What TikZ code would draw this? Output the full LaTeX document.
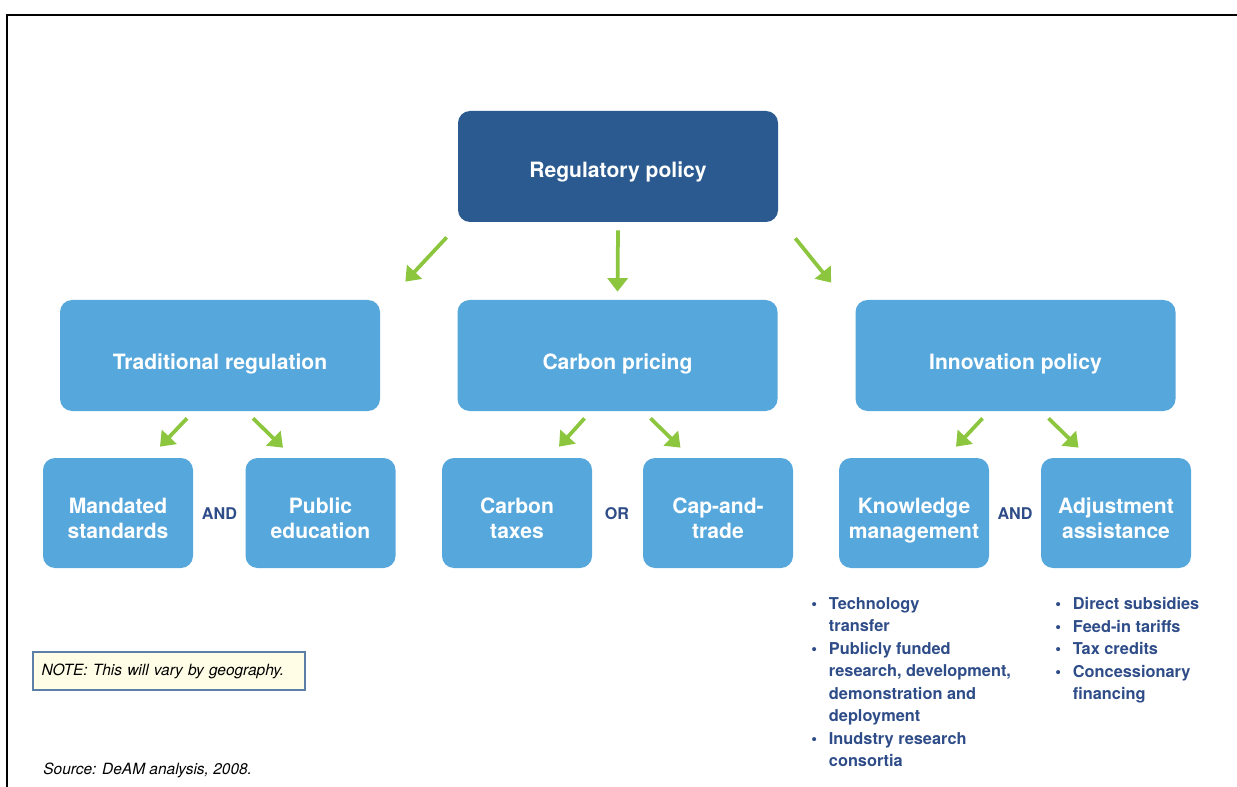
\documentclass[tikz,border=0pt]{standalone}
\usepackage{fontspec}
\setmainfont{TeX Gyre Heros}
\usetikzlibrary{arrows.meta}

\definecolor{darkbox}{HTML}{2A5A8F}
\definecolor{lightbox}{HTML}{56A7DC}
\definecolor{arrowgreen}{HTML}{8CC63F}
\definecolor{listblue}{HTML}{2E4C88}
\definecolor{notefill}{HTML}{FFFDE6}
\definecolor{noteline}{HTML}{5B7FA6}

\tikzset{
    topbox/.style={fill=darkbox, rounded corners=0.24cm, minimum width=6.4cm,
        minimum height=2.22cm, text=white, text height=15.1pt, text depth=2.5pt,
        font=\fontsize{12}{14}\selectfont\bfseries},
    midbox/.style={topbox, fill=lightbox, text height=18.5pt},
    subbox/.style={midbox, minimum width=3cm, minimum height=2.2cm, align=center,
        text height=31.5pt, text depth=2.5pt},
    garrow/.style={draw=arrowgreen, line width=0.075cm,
        -{Triangle[width=0.4cm, length=0.27cm]}},
    joiner/.style={text=listblue, font=\fontsize{9.2}{11}\selectfont\bfseries},
    bulletlist/.style={text=listblue, align=left, inner sep=0pt,
        font=\fontsize{9.3}{12.8}\selectfont\bfseries}
}
\newcommand{\blt}{\makebox[10pt][l]{\textbullet}}
\newcommand{\cont}{\hspace*{10pt}}

\begin{document}
\begin{tikzpicture}
    \useasboundingbox (0,0) rectangle (24.74,-15.74);

    % Frame
    \draw[line width=0.04cm] (24.74,-0.3) -- (0.14,-0.3) -- (0.14,-15.74);

    % Regulatory policy
    \node[topbox] (reg) at (12.36,-3.33) {Regulatory policy};

    % Second row
    \node[midbox] (trad) at (4.4,-7.11) {Traditional regulation};
    \node[midbox] (carb) at (12.35,-7.11) {Carbon pricing};
    \node[midbox] (innov) at (20.31,-7.11) {Innovation policy};

    % Third row
    \node[subbox] (mand) at (2.36,-10.26) {Mandated\\standards};
    \node[subbox] (pub) at (6.41,-10.26) {Public\\education};
    \node[subbox] (ctax) at (10.34,-10.26) {Carbon\\taxes};
    \node[subbox] (cap) at (14.36,-10.26) {Cap-and-\\trade};
    \node[subbox] (know) at (18.28,-10.26) {Knowledge\\management};
    \node[subbox] (adj) at (22.32,-10.26) {Adjustment\\assistance};

    \node[joiner] (and1) at (4.39,-10.28) {AND};
    \node[joiner] (or) at (12.34,-10.28) {OR};
    \node[joiner] (and2) at (20.3,-10.28) {AND};

    % Arrows from the top
    \draw[garrow] ([shift={(-0.22,-0.3)}]reg.south west) -- ([shift={(0.5,0.36)}]trad.north east);
    \draw[garrow] ([shift={(0,-0.16)}]reg.south) -- ([shift={(0,0.16)}]carb.north);
    \draw[garrow] ([shift={(0.34,-0.32)}]reg.south east) -- ([shift={(-0.48,0.34)}]innov.north west);

    % Arrows to the third row
    \foreach \p/\l/\r in {trad/mand/pub, carb/ctax/cap, innov/know/adj} {
        \draw[garrow] ([shift={(-0.66,-0.14)}]\p.south) -- ([shift={(0.84,0.22)}]\l.north);
        \draw[garrow] ([shift={(0.66,-0.14)}]\p.south) -- ([shift={(-0.75,0.2)}]\r.north);
    }

    % Lists
    \node[bulletlist, anchor=north west] (knowlist) at (16.22,-11.94) {%
        \blt Technology\\ \cont transfer\\
        \blt Publicly funded\\ \cont research, development,\\
        \cont demonstration and\\ \cont deployment\\
        \blt Inudstry research\\ \cont consortia};
    \node[bulletlist, anchor=north west] (adjlist) at (21.1,-11.94) {%
        \blt Direct subsidies\\ \blt Feed-in tariffs\\
        \blt Tax credits\\ \blt Concessionary\\ \cont financing};

    % Note and source
    \node[draw=noteline, fill=notefill, line width=0.03cm, minimum width=5.44cm,
        minimum height=0.76cm, text width=5.1cm, align=left,
        font=\fontsize{8.8}{10}\selectfont\itshape] (note) at (3.38,-13.42)
        {NOTE: This will vary by geography.};
    \node[anchor=west, inner sep=0pt, font=\fontsize{8.8}{10}\selectfont\itshape]
        (source) at (0.86,-15.4) {Source: DeAM analysis, 2008.};
\end{tikzpicture}
\end{document}
